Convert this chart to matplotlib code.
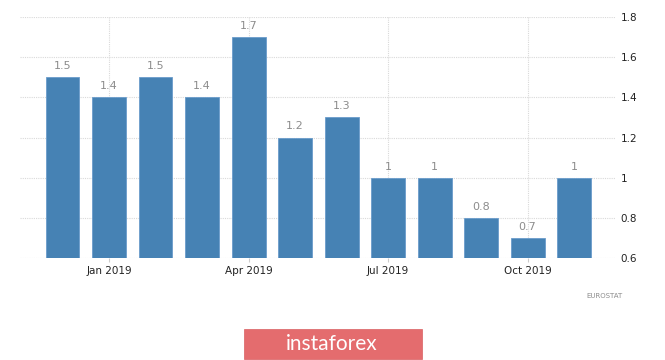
import matplotlib
matplotlib.use("Agg")
import matplotlib.pyplot as plt
from matplotlib.patches import Rectangle

months = ["Dec 2018", "Jan 2019", "Feb 2019", "Mar 2019", "Apr 2019", "May 2019",
          "Jun 2019", "Jul 2019", "Aug 2019", "Sep 2019", "Oct 2019", "Nov 2019"]
values = [1.5, 1.4, 1.5, 1.4, 1.7, 1.2, 1.3, 1.0, 1.0, 0.8, 0.7, 1.0]
value_labels = ["1.5", "1.4", "1.5", "1.4", "1.7", "1.2", "1.3", "1", "1", "0.8", "0.7", "1"]
xtick_labels = ["Jan 2019", "Apr 2019", "Jul 2019", "Oct 2019"]
ytick_values = [0.6, 0.8, 1.0, 1.2, 1.4, 1.6, 1.8]
ytick_labels = ["0.6", "0.8", "1", "1.2", "1.4", "1.6", "1.8"]

plt.rcParams['font.family'] = ['DejaVu Sans']

W, H = 665, 360
fig = plt.figure(figsize=(W / 100, H / 100), dpi=100)
ax = fig.add_axes([20 / W, 1 - 258 / H, (615 - 20) / W, (258 - 17) / H])

x = list(range(len(months)))
base = 0.6
ax.bar(x, [v - base for v in values], bottom=base, width=0.73,
       color="#4682b4", edgecolor="#6a9ccb", linewidth=0.6, zorder=3)

for xi, v, lab in zip(x, values, value_labels):
    ax.text(xi, v + 0.03, lab, ha="center", va="bottom", fontsize=8,
            color="#8c8c8c", zorder=4)

ax.set_xlim(-0.914, 11.88)
ax.set_ylim(0.6, 1.8)

tick_pos = [months.index(m) for m in xtick_labels]
ax.set_xticks(tick_pos)
ax.set_xticklabels(xtick_labels, fontsize=7.5, color="#222222")
ax.set_yticks(ytick_values)
ax.set_yticklabels(ytick_labels, fontsize=7.5, color="#222222")
ax.yaxis.tick_right()
ax.tick_params(axis="y", length=0, pad=4)
ax.tick_params(axis="x", length=3, color="#cccccc", pad=3)

ax.grid(True, axis="y", color="#d9d9d9", linestyle=(0, (1, 1)), linewidth=0.8, zorder=0)
ax.grid(True, axis="x", color="#d9d9d9", linestyle=(0, (1, 1)), linewidth=0.8, zorder=0)
for s in ax.spines.values():
    s.set_visible(False)

fig.text(623 / W, 1 - 296 / H, "EUROSTAT", ha="right", va="center",
         fontsize=5, color="#8c8c8c")

# logo
rect = Rectangle((244 / W, 1 - 359 / H), (422 - 244) / W, (359 - 329) / H,
                 transform=fig.transFigure, facecolor="#e46c6e",
                 edgecolor="#d96062", linewidth=0.5, zorder=1)
fig.patches.append(rect)
fig.text(332 / W, 1 - 344 / H, "instaforex", ha="center", va="center",
         fontsize=15, color="#ffffff", family=["Lato", "DejaVu Sans"],
         fontweight="normal", zorder=5)

fig.savefig("out.png", dpi=100)
